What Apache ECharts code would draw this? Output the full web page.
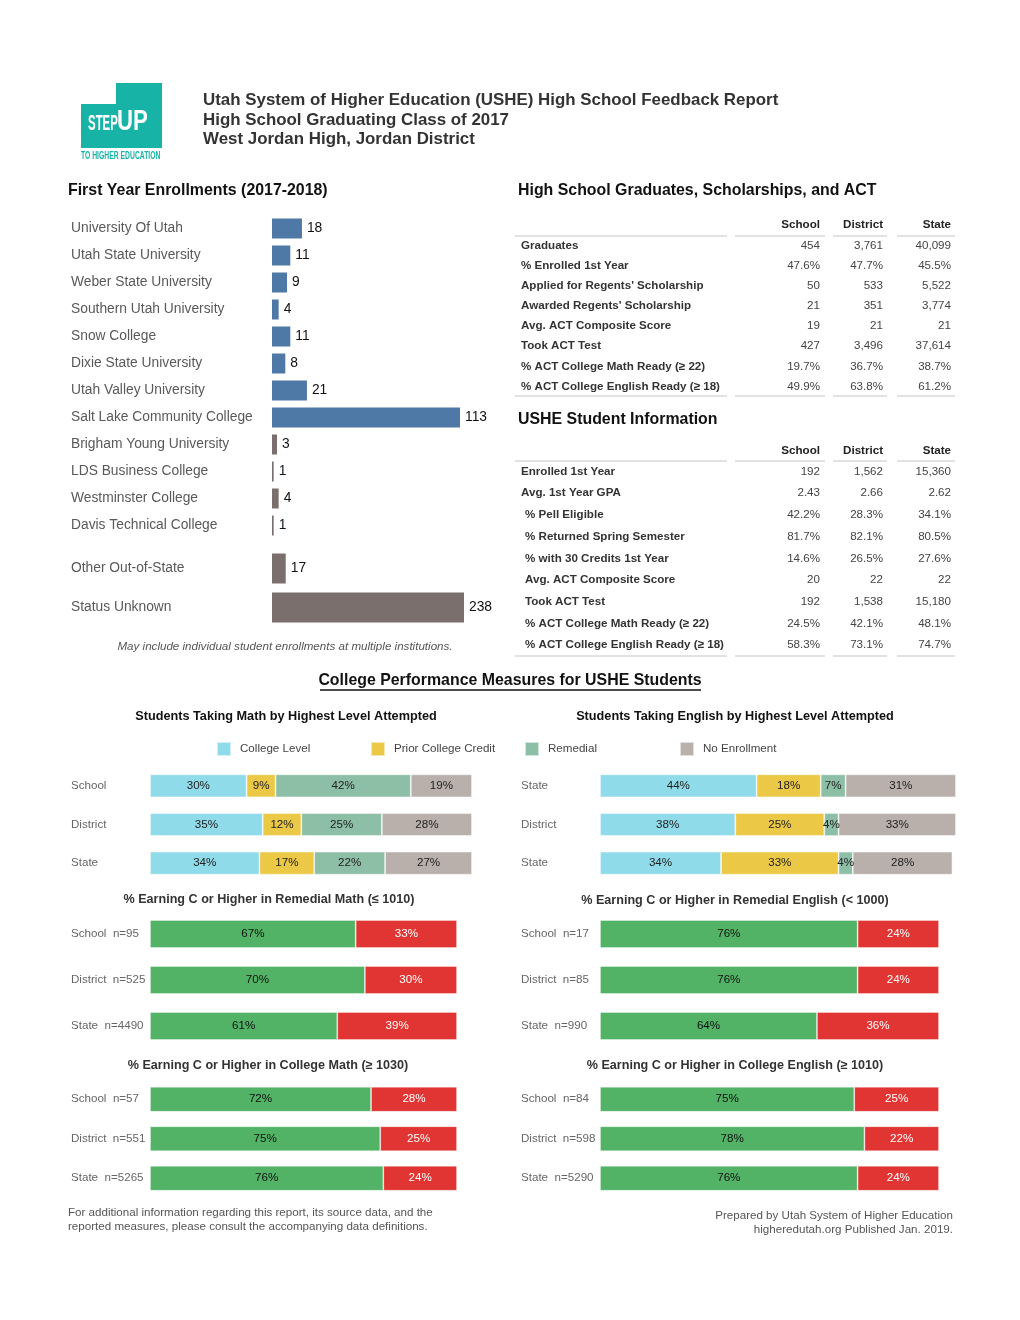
<!DOCTYPE html>
<html><head><meta charset="utf-8">
<script src="https://cdn.jsdelivr.net/npm/echarts@6/dist/echarts.min.js"></script>
<style>html,body{margin:0;padding:0;background:#fff}#c{width:1020px;height:1320px}</style>
</head><body><div id="c"></div>
<script>
// ---------- DATA ----------
const titleLines = ['Utah System of Higher Education (USHE) High School Feedback Report','High School Graduating Class of 2017','West Jordan High, Jordan District'];

const enrollInstitutions = ['University Of Utah','Utah State University','Weber State University','Southern Utah University','Snow College','Dixie State University','Utah Valley University','Salt Lake Community College','Brigham Young University','LDS Business College','Westminster College','Davis Technical College'];
const enrollValues = [18,11,9,4,11,8,21,113,3,1,4,1];
const publicInstitutionCount = 8;
const enrollOtherCats = ['Other Out-of-State','Status Unknown'];
const enrollOtherValues = [17,238];

const tableHeader = ['School','District','State'];
const hsRows = ['Graduates','% Enrolled 1st Year',"Applied for Regents' Scholarship","Awarded Regents' Scholarship",'Avg. ACT Composite Score','Took ACT Test','% ACT College Math Ready (≥ 22)','% ACT College English Ready (≥ 18)'];
const hsSchool = ['454','47.6%','50','21','19','427','19.7%','49.9%'];
const hsDistrict = ['3,761','47.7%','533','351','21','3,496','36.7%','63.8%'];
const hsState = ['40,099','45.5%','5,522','3,774','21','37,614','38.7%','61.2%'];

const usheRows = ['Enrolled 1st Year','Avg. 1st Year GPA','% Pell Eligible','% Returned Spring Semester','% with 30 Credits 1st Year','Avg. ACT Composite Score','Took ACT Test','% ACT College Math Ready (≥ 22)','% ACT College English Ready (≥ 18)'];
const usheSchool = ['192','2.43','42.2%','81.7%','14.6%','20','192','24.5%','58.3%'];
const usheDistrict = ['1,562','2.66','28.3%','82.1%','26.5%','22','1,538','42.1%','73.1%'];
const usheState = ['15,360','2.62','34.1%','80.5%','27.6%','22','15,180','48.1%','74.7%'];

const levelNames = ['College Level','Prior College Credit','Remedial','No Enrollment'];
const mathGroups = ['School','District','State'];
const mathCollegeLevel = [30,35,34];
const mathPriorCredit = [9,12,17];
const mathRemedial = [42,25,22];
const mathNoEnrollment = [19,28,27];
const engGroups = ['State','District','State'];
const engCollegeLevel = [44,38,34];
const engPriorCredit = [18,25,33];
const engRemedial = [7,4,4];
const engNoEnrollment = [31,33,28];

const outcomeGroups = ['School','District','State'];
const remMathN = [95,525,4490];
const remMathPass = [67,70,61];
const remMathFail = [33,30,39];
const remEngN = [17,85,990];
const remEngPass = [76,76,64];
const remEngFail = [24,24,36];
const colMathN = [57,551,5265];
const colMathPass = [72,75,76];
const colMathFail = [28,25,24];
const colEngN = [84,598,5290];
const colEngPass = [75,78,76];
const colEngFail = [25,22,24];

// ---------- STYLE ----------
const FONT = "'Liberation Sans', Arial, Helvetica, sans-serif";
const TEAL = '#17b3a6';
const BLUE = '#4e79a7', BROWN = '#7a6f6c';
const levelColors = ['#8fdbe9','#ebc845','#8dbfa6','#b9b0ab'];
const GREEN = '#52b266', RED = '#e03532';
const SMALL = 11.6;

function txt(x, y, s, o = {}) {
  return { type: 'text', x, y, silent: true, scaleX: o.sx || 1, scaleY: o.sy || 1,
    style: { text: s, x: 0, y: 0, fill: o.color || '#333', fontSize: o.size || SMALL,
      fontWeight: o.bold ? 'bold' : 'normal', fontStyle: o.italic ? 'italic' : 'normal',
      fontFamily: o.family || FONT, textAlign: o.align || 'left', textVerticalAlign: o.valign || 'middle' } };
}
function hline(x1, x2, y, color = '#d9d9d9', w = 1.5) {
  return { type: 'line', silent: true, shape: { x1, y1: y, x2, y2: y }, style: { stroke: color, lineWidth: w } };
}

const graphics = [];
// logo
graphics.push({ type: 'rect', silent: true, shape: { x: 116, y: 83, width: 46, height: 23 }, style: { fill: TEAL } });
graphics.push({ type: 'rect', silent: true, shape: { x: 81, y: 104, width: 81, height: 44 }, style: { fill: TEAL } });
graphics.push(txt(88, 135, 'STEP', { size: 22, bold: true, color: '#fff', valign: 'bottom', sx: 0.52 }));
graphics.push(txt(117, 137, 'UP', { size: 30, bold: true, color: '#fff', valign: 'bottom', sx: 0.74 }));
graphics.push(txt(81, 156, 'TO HIGHER EDUCATION', { size: 10, bold: true, color: TEAL, sx: 0.68 }));
// titles
titleLines.forEach((t, i) => graphics.push(txt(203, [100, 120, 139][i], t, { size: 16.9, bold: true, color: '#333' })));
graphics.push(txt(68, 191, 'First Year Enrollments (2017-2018)', { size: 15.9, bold: true, color: '#111' }));
graphics.push(txt(518, 191, 'High School Graduates, Scholarships, and ACT', { size: 15.9, bold: true, color: '#111' }));
graphics.push(txt(518, 420, 'USHE Student Information', { size: 15.9, bold: true, color: '#111' }));
graphics.push(txt(285, 646.5, 'May include individual student enrollments at multiple institutions.', { italic: true, color: '#555', align: 'center' }));

// tables
const colX = [820, 883, 951];
const segs = [[515, 727], [735, 825], [833, 887], [897, 955]];
function table(headerY, lineY, rowY0, rowStep, bottomY, rows, cols, indentFrom) {
  tableHeader.forEach((h, i) => graphics.push(txt(colX[i], headerY, h, { bold: true, color: '#222', align: 'right' })));
  segs.forEach(s => graphics.push(hline(s[0], s[1], lineY)));
  segs.forEach(s => graphics.push(hline(s[0], s[1], bottomY)));
  rows.forEach((r, i) => {
    const y = rowY0 + i * rowStep;
    graphics.push(txt(i >= indentFrom ? 525 : 521, y, r, { bold: true, color: '#333' }));
    cols.forEach((c, j) => graphics.push(txt(colX[j], y, c[i], { color: '#444', align: 'right' })));
  });
}
table(224.5, 236, 245.5, 20.15, 396, hsRows, [hsSchool, hsDistrict, hsState], 99);
table(450.5, 461, 471.5, 21.7, 656, usheRows, [usheSchool, usheDistrict, usheState], 2);

// section heading
graphics.push(txt(510, 681, 'College Performance Measures for USHE Students', { size: 15.9, bold: true, color: '#111', align: 'center' }));
graphics.push(hline(320, 701, 690, '#111', 1.3));
graphics.push(txt(286, 716, 'Students Taking Math by Highest Level Attempted', { size: 12.7, bold: true, color: '#111', align: 'center' }));
graphics.push(txt(735, 716, 'Students Taking English by Highest Level Attempted', { size: 12.7, bold: true, color: '#111', align: 'center' }));
graphics.push(txt(269, 899.5, '% Earning C or Higher in Remedial Math (≤ 1010)', { size: 12.6, bold: true, color: '#333', align: 'center' }));
graphics.push(txt(735, 900.5, '% Earning C or Higher in Remedial English (< 1000)', { size: 12.6, bold: true, color: '#333', align: 'center' }));
graphics.push(txt(268, 1065.5, '% Earning C or Higher in College Math (≥ 1030)', { size: 12.6, bold: true, color: '#333', align: 'center' }));
graphics.push(txt(735, 1065.5, '% Earning C or Higher in College English (≥ 1010)', { size: 12.6, bold: true, color: '#333', align: 'center' }));
// footers
graphics.push(txt(68, 1212.5, 'For additional information regarding this report, its source data, and the', { color: '#555' }));
graphics.push(txt(68, 1226.5, 'reported measures, please consult the accompanying data definitions.', { color: '#555' }));
graphics.push(txt(953, 1215.5, 'Prepared by Utah System of Higher Education', { color: '#555', align: 'right' }));
graphics.push(txt(953, 1229.5, 'higheredutah.org Published Jan. 2019.', { color: '#555', align: 'right' }));

// ---------- GRIDS & AXES ----------
const grids = [
  { left: 272, top: 215, width: 188, height: 324 },
  { left: 272, top: 549, width: 192, height: 78 },
  { left: 150, top: 766.5, width: 322, height: 116 },
  { left: 600, top: 766.5, width: 356, height: 116 },
  { left: 150, top: 911, width: 307, height: 138 },
  { left: 600, top: 911, width: 339, height: 138 },
  { left: 150, top: 1079.5, width: 307, height: 118.5 },
  { left: 600, top: 1079.5, width: 339, height: 118.5 }
];
const nLabel = (ns) => outcomeGroups.map((g, i) => g + '  n=' + ns[i]);
const yCats = [enrollInstitutions, enrollOtherCats, mathGroups, engGroups, nLabel(remMathN), nLabel(remEngN), nLabel(colMathN), nLabel(colEngN)];
const xAxes = grids.map((g, i) => ({ type: 'value', gridIndex: i, min: 0, max: i < 2 ? 'dataMax' : 100, show: false }));
const yAxes = yCats.map((cats, i) => ({
  type: 'category', gridIndex: i, data: cats, inverse: true,
  axisLine: { show: false }, axisTick: { show: false }, splitLine: { show: false },
  axisLabel: { align: 'left', margin: i < 2 ? 201 : 79, color: i < 2 ? '#595959' : '#666',
    fontSize: i < 2 ? 13.8 : SMALL, fontFamily: FONT }
}));

// ---------- SERIES ----------
const series = [];
const valLabel = { show: true, position: 'right', distance: 5, fontSize: 13.8, color: '#111', fontFamily: FONT };
series.push({ type: 'bar', xAxisIndex: 0, yAxisIndex: 0, data: enrollValues, barWidth: 20,
  itemStyle: { color: p => p.dataIndex < publicInstitutionCount ? BLUE : BROWN }, label: valLabel });
series.push({ type: 'bar', xAxisIndex: 1, yAxisIndex: 1, data: enrollOtherValues, barWidth: 30,
  itemStyle: { color: BROWN }, label: valLabel });

const pctLabel = (color) => ({ show: true, position: 'inside', formatter: '{c}%', fontSize: SMALL, color, fontFamily: FONT });
const mathSets = [mathCollegeLevel, mathPriorCredit, mathRemedial, mathNoEnrollment];
const engSets = [engCollegeLevel, engPriorCredit, engRemedial, engNoEnrollment];
[[mathSets, 2], [engSets, 3]].forEach(([sets, gi]) => {
  sets.forEach((d, k) => series.push({ type: 'bar', name: levelNames[k], stack: 's' + gi, xAxisIndex: gi, yAxisIndex: gi,
    data: d, barWidth: 23, itemStyle: { color: levelColors[k], borderColor: 'rgba(255,255,255,0.6)', borderWidth: 0.8 },
    label: pctLabel('#222') }));
});
const outcomeSets = [[remMathPass, remMathFail], [remEngPass, remEngFail], [colMathPass, colMathFail], [colEngPass, colEngFail]];
outcomeSets.forEach(([pass, fail], k) => {
  const gi = 4 + k;
  const bw = k < 2 ? 28 : 25;
  series.push({ type: 'bar', name: 'C or Higher', stack: 'o' + gi, xAxisIndex: gi, yAxisIndex: gi, data: pass, barWidth: bw,
    itemStyle: { color: GREEN, borderColor: 'rgba(255,255,255,0.5)', borderWidth: 0.8 }, label: pctLabel('#111') });
  series.push({ type: 'bar', name: 'Below C', stack: 'o' + gi, xAxisIndex: gi, yAxisIndex: gi, data: fail, barWidth: bw,
    itemStyle: { color: RED, borderColor: 'rgba(255,255,255,0.5)', borderWidth: 0.8 }, label: pctLabel('#fff') });
});

const legendX = [216, 370, 524, 679];
const legends = levelNames.map((n, i) => ({
  data: [n], left: legendX[i], top: 741, padding: 0, itemWidth: 14, itemHeight: 14, icon: 'rect',
  selectedMode: false, textStyle: { fontSize: SMALL, color: '#444', fontFamily: FONT, padding: [0, 0, 0, 4] }
}));

const chart = echarts.init(document.getElementById('c'), null, { renderer: 'canvas' });
chart.setOption({
  animation: false,
  backgroundColor: '#fff',
  textStyle: { fontFamily: FONT },
  grid: grids,
  xAxis: xAxes,
  yAxis: yAxes,
  legend: legends,
  series,
  graphic: graphics
});
</script></body></html>
